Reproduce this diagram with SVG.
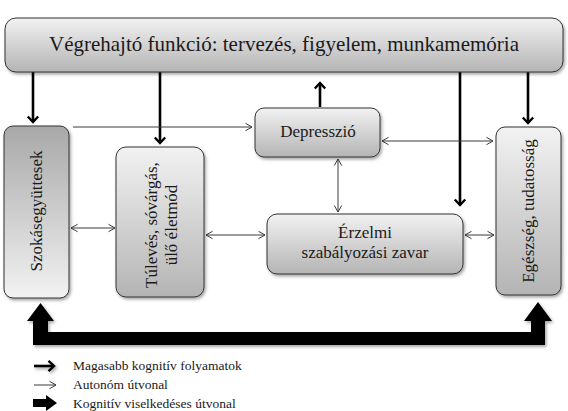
<svg xmlns="http://www.w3.org/2000/svg" width="568" height="411" viewBox="0 0 568 411">
<style>
  text { font-family: "Liberation Serif", "Times New Roman", "DejaVu Serif", serif; fill: #1a1a1a; }
  .box { stroke: #333; stroke-width: 1; filter: url(#shadow); }
  .thick { stroke: #000; stroke-width: 2.6; fill: none; }
  .thin { stroke: #3a3a3a; stroke-width: 1; fill: none; }
  .lbl { font-size: 17px; text-anchor: middle; }
  .leg { font-size: 13.5px; }
</style>
<defs>
  <filter id="shadow" x="-20%" y="-20%" width="140%" height="140%">
    <feDropShadow dx="1.5" dy="2" stdDeviation="1.5" flood-color="#000" flood-opacity="0.35"/>
  </filter>
  <filter id="shadowU" filterUnits="userSpaceOnUse" x="0" y="0" width="568" height="411">
    <feDropShadow dx="1.5" dy="2" stdDeviation="1.5" flood-color="#000" flood-opacity="0.35"/>
  </filter>
  <linearGradient id="gDown" x1="0" y1="0" x2="0" y2="1">
    <stop offset="0" stop-color="#f2f2f2"/>
    <stop offset="1" stop-color="#b4b4b4"/>
  </linearGradient>
  <linearGradient id="gUp" x1="0" y1="0" x2="0" y2="1">
    <stop offset="0" stop-color="#a8a8a8"/>
    <stop offset="1" stop-color="#f2f2f2"/>
  </linearGradient>
  <marker id="mThick" markerUnits="userSpaceOnUse" markerWidth="14" markerHeight="14" refX="7" refY="6" orient="auto" viewBox="0 0 14 12">
    <path d="M1.5,0.8 L7,6 L1.5,11.2" fill="none" stroke="#000" stroke-width="2.4"/>
  </marker>
  <marker id="mThin" markerUnits="userSpaceOnUse" markerWidth="10" markerHeight="10" refX="7" refY="4" orient="auto-start-reverse" viewBox="0 0 10 8">
    <path d="M0.5,0.3 L7,4 L0.5,7.7" fill="none" stroke="#3a3a3a" stroke-width="1"/>
  </marker>
</defs>

<g id="connectors">
  <!-- higher cognitive processes (thick) -->
  <line class="thick" x1="33" y1="72" x2="33" y2="122" marker-end="url(#mThick)"/>
  <line class="thick" x1="160" y1="72" x2="160" y2="143" marker-end="url(#mThick)"/>
  <line class="thick" x1="320" y1="107" x2="320" y2="83" marker-end="url(#mThick)"/>
  <line class="thick" x1="460" y1="72" x2="460" y2="205" marker-end="url(#mThick)"/>
  <line class="thick" x1="528" y1="72" x2="528" y2="123" marker-end="url(#mThick)"/>
  <!-- autonomous pathways (thin) -->
  <line class="thin" x1="73" y1="127" x2="252" y2="127" marker-end="url(#mThin)"/>
  <line class="thin" x1="71" y1="228" x2="115" y2="228" marker-start="url(#mThin)" marker-end="url(#mThin)"/>
  <line class="thin" x1="206" y1="235" x2="265" y2="235" marker-start="url(#mThin)" marker-end="url(#mThin)"/>
  <line class="thin" x1="382" y1="141" x2="493" y2="141" marker-start="url(#mThin)" marker-end="url(#mThin)"/>
  <line class="thin" x1="338" y1="159" x2="338" y2="212" marker-start="url(#mThin)" marker-end="url(#mThin)"/>
  <line class="thin" x1="465" y1="235" x2="494" y2="235" marker-start="url(#mThin)" marker-end="url(#mThin)"/>
  <!-- cognitive behavioural pathway (block) -->
  <path d="M40.5,303 L54,321 L48,321 L48,332 L531,332 L531,321 L524,321 L538,302 L552,321 L545,321 L545,345 L33,345 L33,321 L27,321 Z" fill="#000" filter="url(#shadow)"/>
</g>

<g id="n-executive">
  <rect class="box" x="5" y="18" width="558" height="54" rx="11" fill="url(#gDown)"/>
  <text x="284" y="51" font-size="21" text-anchor="middle">Végrehajtó funkció: tervezés, figyelem, munkamemória</text>
</g>

<g id="n-szokas">
  <rect class="box" x="4" y="126" width="65" height="172" rx="9" fill="url(#gUp)"/>
  <text class="lbl" transform="translate(42,211) rotate(-90)">Szokásegyüttesek</text>
</g>

<g id="n-tuleves">
  <rect class="box" x="116" y="147" width="88" height="150" rx="10" fill="url(#gDown)"/>
  <text class="lbl" transform="translate(157,225) rotate(-90)">Túlevés, sóvárgás,</text>
  <text class="lbl" transform="translate(177,225) rotate(-90)">ülő életmód</text>
</g>

<g id="n-depresszio">
  <rect class="box" x="255" y="108" width="125" height="49" rx="9" fill="url(#gDown)"/>
  <text class="lbl" x="318" y="137">Depresszió</text>
</g>

<g id="n-erzelmi">
  <rect class="box" x="267" y="214" width="196" height="60" rx="10" fill="url(#gDown)"/>
  <text class="lbl" x="365" y="238">Érzelmi</text>
  <text class="lbl" x="365" y="258">szabályozási zavar</text>
</g>

<g id="n-egeszseg">
  <rect class="box" x="496" y="127" width="65" height="168" rx="9" fill="url(#gDown)"/>
  <text class="lbl" transform="translate(534,211) rotate(-90)">Egészség, tudatosság</text>
</g>

<g id="legend">
  <line class="thick" x1="34" y1="366" x2="54" y2="366" marker-end="url(#mThick)" filter="url(#shadowU)"/>
  <text class="leg" x="73" y="370">Magasabb kognitív folyamatok</text>
  <line class="thin" x1="34" y1="385" x2="56" y2="385" marker-end="url(#mThin)"/>
  <text class="leg" x="73" y="389">Autonóm útvonal</text>
  <path d="M33,399 L46,399 L46,395 L57,403 L46,411 L46,407 L33,407 Z" fill="#000"/>
  <text class="leg" x="73" y="408">Kognitív viselkedéses útvonal</text>
</g>
</svg>
